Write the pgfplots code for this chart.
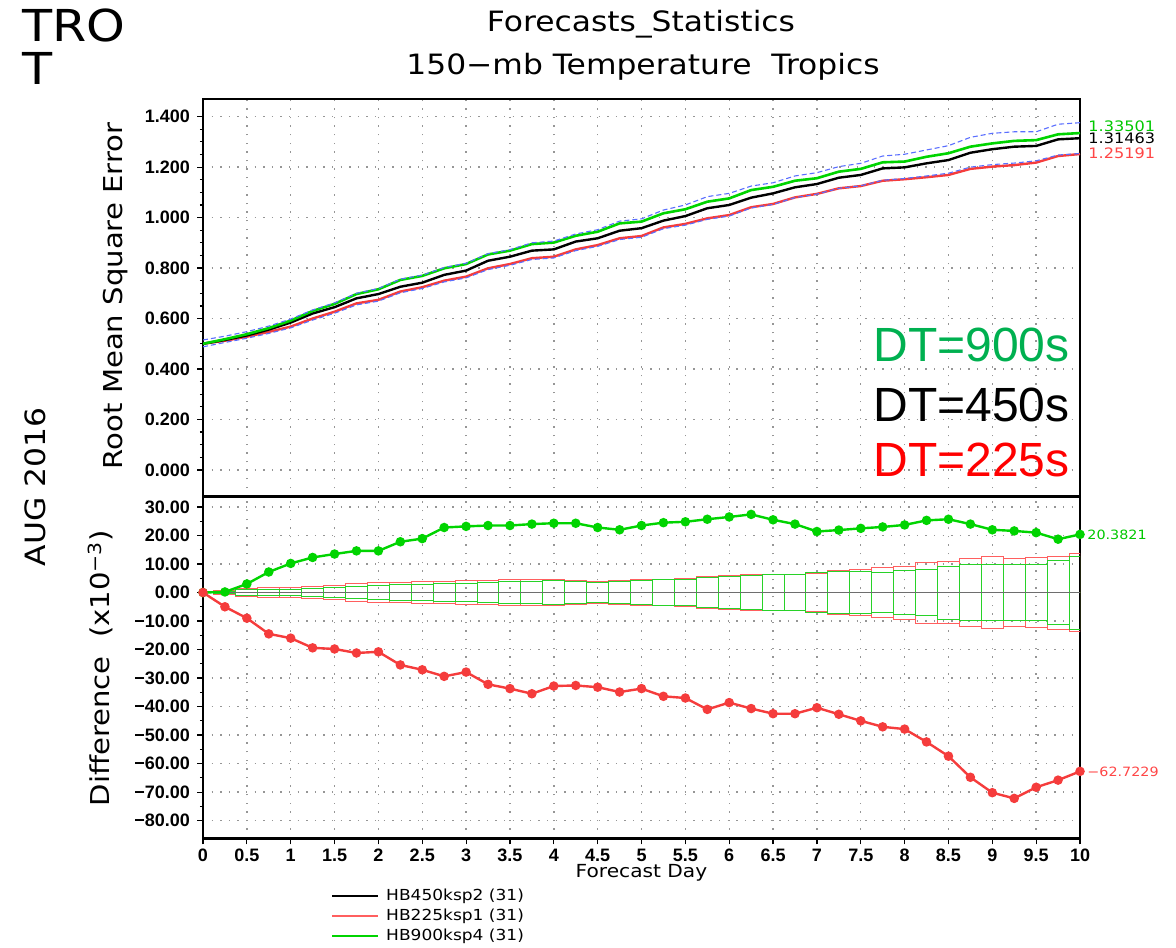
\documentclass[border=0pt]{standalone}
\usepackage{pgfplots}
\pgfplotsset{compat=1.18}
\usepackage{pgfplotstable}
\usepackage{fontspec}
\setmainfont{DejaVu Sans}[FakeStretch=1.12]
\newfontfamily\tickf{Liberation Sans}
\newfontfamily\arialf{Liberation Sans}

\definecolor{lgreen}{RGB}{0,212,0}
\definecolor{lred}{RGB}{245,60,60}
\definecolor{lblue}{RGB}{90,110,255}
\definecolor{boxred}{RGB}{255,95,95}
\definecolor{boxgreen}{RGB}{40,210,40}
\definecolor{dtgreen}{RGB}{0,176,80}
\definecolor{dtred}{RGB}{255,0,0}
\definecolor{labgreen}{RGB}{0,200,0}
\definecolor{labred}{RGB}{255,70,70}
\definecolor{gridgray}{RGB}{150,150,150}
\definecolor{zerogray}{RGB}{110,110,110}

\pgfplotstableread{
day g b r up lo
0    0.500 0.500 0.500 0.515 0.488
0.25 0.518 0.515 0.512 0.530 0.505
0.5  0.538 0.533 0.528 0.548 0.522
0.75 0.562 0.556 0.547 0.570 0.541
1    0.592 0.584 0.568 0.598 0.563
1.25 0.630 0.620 0.600 0.634 0.594
1.5  0.658 0.645 0.627 0.662 0.621
1.75 0.697 0.680 0.660 0.700 0.654
2    0.716 0.697 0.674 0.719 0.669
2.25 0.753 0.726 0.707 0.756 0.702
2.5  0.769 0.742 0.724 0.772 0.719
2.75 0.799 0.773 0.750 0.802 0.745
3    0.816 0.790 0.766 0.819 0.761
3.25 0.854 0.829 0.799 0.857 0.794
3.5  0.869 0.845 0.816 0.873 0.811
3.75 0.895 0.869 0.839 0.900 0.834
4    0.901 0.874 0.845 0.907 0.840
4.25 0.928 0.905 0.874 0.935 0.869
4.5  0.944 0.918 0.891 0.952 0.886
4.75 0.977 0.948 0.918 0.986 0.913
5    0.984 0.958 0.927 0.995 0.922
5.25 1.017 0.988 0.961 1.030 0.956
5.5  1.033 1.006 0.975 1.050 0.970
5.75 1.063 1.037 0.997 1.083 0.993
6    1.076 1.050 1.010 1.096 1.006
6.25 1.109 1.079 1.041 1.125 1.038
6.5  1.122 1.096 1.054 1.138 1.052
6.75 1.146 1.120 1.080 1.165 1.079
7    1.156 1.133 1.094 1.178 1.093
7.25 1.182 1.158 1.116 1.202 1.116
7.5  1.193 1.169 1.125 1.215 1.126
7.75 1.219 1.195 1.146 1.244 1.148
8    1.222 1.199 1.152 1.251 1.155
8.25 1.241 1.215 1.160 1.268 1.165
8.5  1.255 1.228 1.169 1.285 1.176
8.75 1.281 1.257 1.193 1.318 1.200
9    1.294 1.271 1.202 1.334 1.210
9.25 1.304 1.281 1.208 1.340 1.216
9.5  1.307 1.284 1.218 1.340 1.225
9.75 1.330 1.310 1.244 1.370 1.248
10   1.33501 1.31463 1.25191 1.376 1.254
}\rmse

\pgfplotstableread{
day g r
0    0.0  0.0
0.25 0.2  -5.0
0.5  3.0  -9.0
0.75 7.2  -14.5
1    10.2 -16.0
1.25 12.3 -19.4
1.5  13.5 -19.8
1.75 14.6 -21.2
2    14.6 -20.8
2.25 17.8 -25.4
2.5  18.9 -27.1
2.75 22.8 -29.4
3    23.2 -27.9
3.25 23.5 -32.2
3.5  23.5 -33.7
3.75 24.0 -35.5
4    24.3 -32.8
4.25 24.3 -32.6
4.5  22.8 -33.2
4.75 22.0 -34.9
5    23.5 -33.7
5.25 24.5 -36.4
5.5  24.8 -37.0
5.75 25.7 -41.0
6    26.5 -38.6
6.25 27.4 -40.7
6.5  25.5 -42.5
6.75 24.0 -42.5
7    21.4 -40.4
7.25 21.9 -42.7
7.5  22.5 -45.0
7.75 23.0 -47.1
8    23.7 -47.9
8.25 25.3 -52.4
8.5  25.7 -57.4
8.75 24.0 -64.8
9    22.0 -70.2
9.25 21.6 -72.2
9.5  21.0 -68.3
9.75 18.7 -65.8
10   20.3821 -62.7229
}\diff

\pgfplotstableread{
x r g
0.125 0.8 0.5
0.375 1.5 1.0
0.625 1.6 1.1
0.875 1.75 1.2
1.125 2.2 1.5
1.375 2.6 1.75
1.625 3.0 2.2
1.875 3.5 2.6
2.125 3.6 2.7
2.375 3.7 2.7
2.625 4.0 3.0
2.875 4.3 3.2
3.125 4.3 3.6
3.375 4.4 4.0
3.625 4.6 4.0
3.875 4.7 4.3
4.125 4.3 4.0
4.375 3.9 3.6
4.625 4.2 3.8
4.875 4.5 4.2
5.125 4.7 4.5
5.375 4.9 4.7
5.625 5.5 5.2
5.875 6.0 5.6
6.125 6.4 5.8
6.375 6.4 6.2
6.625 6.2 6.2
6.875 6.6 7.0
7.125 7.6 7.5
7.375 8.2 7.2
7.625 8.7 7.0
7.875 9.3 7.8
8.125 10.7 8.2
8.375 10.8 9.3
8.625 12.0 9.7
8.875 12.5 9.9
9.125 12.0 9.9
9.375 12.2 9.9
9.625 12.8 11.3
9.875 13.6 12.8
10 0 0
}\boxes

\pgfplotsset{
  panel/.style={
    scale only axis, width=438.5pt, anchor=south west,
    xmin=0, xmax=10,
    xtick={0,0.5,1,1.5,2,2.5,3,3.5,4,4.5,5,5.5,6,6.5,7,7.5,8,8.5,9,9.5,10},
    tick align=outside, ytick pos=left, xtick pos=bottom,
    major tick length=3pt, minor tick length=1.6pt,
    tick style={black, line width=0.6pt},
    axis line style={line width=1.4pt},
    grid=major,
    major grid style={draw=gridgray, line width=0.7pt, dash pattern=on 0.7pt off 3.6pt},
    ticklabel style={font=\tickf\bfseries\fontsize{9}{10}\selectfont},
    clip mode=individual,
  }
}

\begin{document}
\begin{tikzpicture}
\path[use as bounding box] (0,0) rectangle (588pt,473.5pt);

% titles and logo
\node[anchor=base west, font=\fontsize{22}{24}\selectfont, inner sep=0pt] at (11pt,452.5pt) {TRO};
\node[anchor=base west, font=\fontsize{22}{24}\selectfont, inner sep=0pt] at (11pt,431pt) {T};
\node[anchor=base, font=\fontsize{14}{16}\selectfont, inner sep=0pt] at (320.5pt,457.5pt) {Forecasts\_Statistics};
\node[anchor=base, font=\fontsize{14}{16}\selectfont, inner sep=0pt] at (321.5pt,436pt) {150−mb Temperature\ \ Tropics};
\node[rotate=90, font=\fontsize{14}{16}\selectfont] at (17.5pt,230pt) {AUG 2016};

% ---------- top panel ----------
\begin{axis}[panel, at={(101.5pt,225.15pt)}, height=198.85pt,
  ymin=-0.106, ymax=1.47,
  ytick={0,0.2,0.4,0.6,0.8,1.0,1.2,1.4},
  yticklabels={0.000,0.200,0.400,0.600,0.800,1.000,1.200,1.400},
  minor y tick num=3,
  xticklabels={}, major x tick style={draw=none},
  ylabel={Root Mean Square Error},
  ylabel style={at={(axis description cs:-0.0992,0.505)}, anchor=center, font=\fontsize{13}{15}\selectfont},
]
\addplot[lred, line width=1.2pt] table[x=day,y=r] {\rmse};
\addplot[black, line width=1.2pt] table[x=day,y=b] {\rmse};
\addplot[lgreen, line width=1.3pt] table[x=day,y=g] {\rmse};
\addplot[lblue, line width=0.55pt, dash pattern=on 2.5pt off 1.5pt] table[x=day,y=up] {\rmse};
\addplot[lblue, line width=0.55pt, dash pattern=on 2.5pt off 1.5pt] table[x=day,y=lo] {\rmse};
\node[anchor=west, text=labgreen, font=\fontsize{7.2}{8}\selectfont, inner sep=0pt] at (axis cs:10,1.363) {\hspace{4pt}1.33501};
\node[anchor=west, text=black, font=\fontsize{7.2}{8}\selectfont, inner sep=0pt] at (axis cs:10,1.315) {\hspace{4pt}1.31463};
\node[anchor=west, text=labred, font=\fontsize{7.2}{8}\selectfont, inner sep=0pt] at (axis cs:10,1.256) {\hspace{4pt}1.25191};
\node[anchor=east, text=dtgreen, font=\arialf\fontsize{24}{26}\selectfont, inner sep=0pt] at (axis description cs:0.9886,0.381) {DT=900s};
\node[anchor=east, text=black, font=\arialf\fontsize{24}{26}\selectfont, inner sep=0pt] at (axis description cs:0.9886,0.2306) {DT=450s};
\node[anchor=east, text=dtred, font=\arialf\fontsize{24}{26}\selectfont, inner sep=0pt] at (axis description cs:0.9886,0.0923) {DT=225s};
\end{axis}

% ---------- bottom panel ----------
\begin{axis}[panel, at={(101.5pt,54.35pt)}, height=170.8pt,
  ymin=-86.2, ymax=33.6,
  ytick={-80,-70,-60,-50,-40,-30,-20,-10,0,10,20,30},
  yticklabels={−80.00,−70.00,−60.00,−50.00,−40.00,−30.00,−20.00,−10.00,0.00,10.00,20.00,30.00},
  minor y tick num=1,
  xticklabels={0,0.5,1,1.5,2,2.5,3,3.5,4,4.5,5,5.5,6,6.5,7,7.5,8,8.5,9,9.5,10},
  xticklabel style={yshift=1pt},
  ylabel={Difference\ \ (x10\textsuperscript{−3})},
  ylabel style={at={(axis description cs:-0.117,0.4985)}, anchor=center, font=\fontsize{13}{15}\selectfont},
  xlabel={Forecast Day},
  xlabel style={at={(axis description cs:0.5,-0.1133)}, anchor=base, inner sep=0pt, font=\fontsize{9}{10}\selectfont},
  legend style={at={(axis description cs:0.146,-0.1396)}, anchor=north west, draw=none, fill=none,
    font=\fontsize{7.6}{9}\selectfont, inner sep=0pt, row sep=0pt, column sep=2.5pt,
    nodes={inner sep=1pt, text height=6pt, text depth=2pt}},
  legend cell align=left,
  legend image code/.code={\draw[#1] (0pt,0pt) -- (23pt,0pt);},
]
\addlegendimage{black, line width=0.9pt}
\addlegendentry{HB450ksp2 (31)}
\addlegendimage{boxred, line width=0.9pt}
\addlegendentry{HB225ksp1 (31)}
\addlegendimage{lgreen, line width=0.9pt}
\addlegendentry{HB900ksp4 (31)}

\addplot[ybar interval, draw=boxred, fill=none, line width=0.5pt, forget plot] table[x=x,y=r] {\boxes};
\addplot[ybar interval, draw=boxred, fill=none, line width=0.5pt, forget plot] table[x=x,y expr=-\thisrow{r}] {\boxes};
\addplot[ybar interval, draw=boxgreen, fill=none, line width=0.5pt, forget plot] table[x=x,y=g] {\boxes};
\addplot[ybar interval, draw=boxgreen, fill=none, line width=0.5pt, forget plot] table[x=x,y expr=-\thisrow{g}] {\boxes};
\addplot[zerogray, line width=0.9pt, forget plot] coordinates {(0,0) (10,0)};
\addplot[lgreen, line width=1.2pt, mark=*, mark size=1.75pt, mark options={fill=lgreen, draw=lgreen}, forget plot] table[x=day,y=g] {\diff};
\addplot[lred, line width=1.2pt, mark=*, mark size=1.75pt, mark options={fill=lred, draw=lred}, forget plot] table[x=day,y=r] {\diff};
\node[anchor=west, text=labgreen, font=\fontsize{6.4}{7}\selectfont, inner sep=0pt] at (axis cs:10,20.38) {\hspace{3.5pt}20.3821};
\node[anchor=west, text=labred, font=\fontsize{6.4}{7}\selectfont, inner sep=0pt] at (axis cs:10,-62.9) {\hspace{3.5pt}−62.7229};
\end{axis}
\end{tikzpicture}
\end{document}
